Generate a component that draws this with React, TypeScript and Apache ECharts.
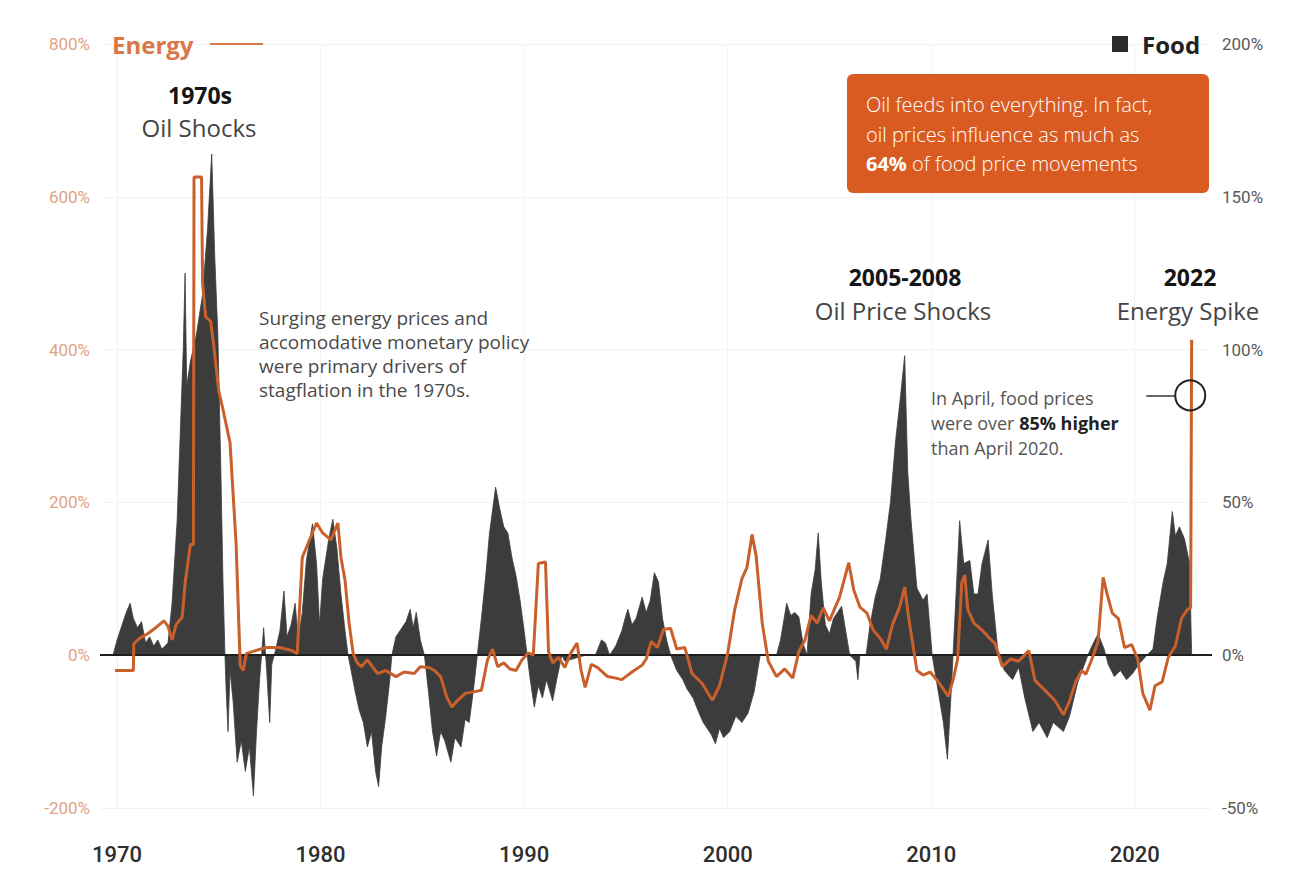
import React, { useEffect, useRef } from "react";
import * as echarts from "echarts";

// Year-over-year change, food price index (%), right axis
const foodSeries: [number, number][] = [
  [1969.8, 0], [1970.0, 5], [1970.2, 9], [1970.45, 14], [1970.64, 17], [1970.8, 12],
  [1971.0, 9], [1971.2, 11], [1971.4, 4], [1971.6, 6], [1971.8, 3], [1972.0, 5],
  [1972.2, 2], [1972.5, 4], [1972.7, 17], [1972.95, 44], [1973.1, 72], [1973.25, 100],
  [1973.34, 125], [1973.42, 88], [1973.6, 96], [1973.9, 105], [1974.2, 118], [1974.45, 140],
  [1974.65, 164], [1974.8, 130], [1974.95, 105], [1975.1, 60], [1975.2, 25], [1975.3, 0],
  [1975.35, -10], [1975.45, -25], [1975.55, -5], [1975.7, -15], [1975.9, -35], [1976.1, -28],
  [1976.3, -38], [1976.5, -30], [1976.7, -46], [1976.85, -25], [1977.0, -8], [1977.1, 0],
  [1977.2, 9], [1977.35, -5], [1977.5, -22], [1977.6, -3], [1977.8, 2], [1978.0, 8],
  [1978.2, 21], [1978.35, 6], [1978.55, 10], [1978.75, 17], [1978.9, 5], [1979.1, 14],
  [1979.3, 31], [1979.6, 43], [1979.8, 30], [1979.95, 10], [1980.1, 25], [1980.4, 38],
  [1980.6, 44.5], [1980.8, 35], [1981.0, 20], [1981.2, 8], [1981.35, 0], [1981.5, -5],
  [1981.7, -12], [1981.9, -18], [1982.1, -22], [1982.3, -30], [1982.5, -25], [1982.7, -38],
  [1982.85, -43], [1983.0, -30], [1983.2, -20], [1983.4, -8], [1983.5, 0], [1983.7, 6],
  [1984.0, 9], [1984.2, 11], [1984.4, 15], [1984.55, 9], [1984.7, 14], [1984.9, 5],
  [1985.1, 0], [1985.3, -12], [1985.5, -25], [1985.7, -33], [1985.9, -25], [1986.1, -28],
  [1986.4, -35], [1986.6, -27], [1986.9, -30], [1987.1, -21], [1987.3, -22], [1987.5, -12],
  [1987.7, 0], [1987.9, 12], [1988.1, 25], [1988.3, 40], [1988.6, 55], [1988.8, 48],
  [1989.0, 42], [1989.2, 40], [1989.4, 32], [1989.6, 26], [1989.8, 18], [1990.0, 8],
  [1990.15, 0], [1990.3, -8], [1990.5, -17], [1990.7, -10], [1990.9, -14], [1991.1, -8],
  [1991.4, -15], [1991.6, -8], [1991.85, 0], [1992.0, -2], [1992.5, -1], [1993.0, 0],
  [1993.5, 0], [1993.8, 5], [1994.0, 4], [1994.2, 0], [1994.5, 3], [1994.8, 8],
  [1995.0, 13], [1995.1, 15], [1995.3, 10], [1995.5, 12], [1995.8, 19], [1996.0, 14],
  [1996.2, 18], [1996.4, 27], [1996.6, 24], [1996.8, 12], [1997.0, 5], [1997.2, 0],
  [1997.5, -5], [1997.8, -8], [1998.0, -11], [1998.3, -14], [1998.6, -19], [1998.8, -22],
  [1999.0, -24], [1999.2, -26], [1999.4, -29], [1999.6, -24], [1999.8, -27], [2000.1, -25],
  [2000.4, -20], [2000.7, -22], [2001.0, -19], [2001.3, -12], [2001.6, 0], [2002.0, 0],
  [2002.4, 0], [2002.6, 5], [2002.9, 17], [2003.1, 13], [2003.3, 14], [2003.5, 12.5],
  [2003.7, 4], [2003.9, 0], [2004.1, 20], [2004.3, 28], [2004.45, 40], [2004.6, 24],
  [2004.8, 10], [2005.0, 7], [2005.2, 12], [2005.4, 14], [2005.6, 16], [2005.8, 8],
  [2006.0, 0], [2006.3, -2], [2006.4, -8], [2006.5, 0], [2006.8, 0], [2007.0, 10],
  [2007.25, 19], [2007.5, 25], [2007.75, 37], [2008.0, 50], [2008.25, 70], [2008.5, 85],
  [2008.7, 98], [2008.85, 60], [2009.0, 45], [2009.3, 22], [2009.6, 18], [2009.8, 20],
  [2010.05, 0], [2010.3, -10], [2010.6, -22], [2010.8, -34], [2011.0, -10], [2011.15, 10],
  [2011.4, 44], [2011.6, 30], [2011.9, 31], [2012.1, 20], [2012.3, 20], [2012.5, 30],
  [2012.8, 37.7], [2013.0, 20], [2013.3, 0], [2013.6, -5], [2014.0, -8], [2014.3, -4],
  [2014.6, -14], [2015.0, -25], [2015.3, -22], [2015.7, -27], [2016.0, -22], [2016.5, -25],
  [2016.8, -20], [2017.2, -9], [2017.7, 0], [2017.9, 3], [2018.2, 7], [2018.5, 2],
  [2018.7, -3], [2019.0, -7], [2019.3, -5], [2019.6, -8], [2019.9, -6], [2020.2, -3],
  [2020.6, 0], [2020.9, 2], [2021.1, 12], [2021.4, 24], [2021.6, 30], [2021.85, 47],
  [2022.0, 39], [2022.2, 42], [2022.45, 38], [2022.7, 30], [2022.8, 0],
];

// Year-over-year change, energy price index (%), left axis
const energySeries: [number, number][] = [
  [1969.9, -20], [1970.8, -20], [1970.82, 15], [1971.1, 22], [1971.5, 28], [1971.9, 36],
  [1972.3, 45], [1972.5, 38], [1972.7, 20], [1972.9, 40], [1973.2, 50], [1973.35, 96],
  [1973.6, 145], [1973.75, 145], [1973.78, 626], [1974.15, 626], [1974.2, 487], [1974.35, 443],
  [1974.6, 437], [1974.75, 405], [1975.0, 345], [1975.2, 322], [1975.55, 278], [1975.85, 145],
  [1976.05, -14], [1976.2, -20], [1976.35, 2], [1976.8, 6], [1977.3, 10], [1978.0, 10],
  [1978.6, 6], [1978.85, 2], [1979.1, 128], [1979.3, 141], [1979.8, 173], [1980.1, 160],
  [1980.5, 151], [1980.85, 173], [1981.0, 128], [1981.2, 98], [1981.4, 42], [1981.6, 2],
  [1981.8, -10], [1982.0, -15], [1982.3, -6], [1982.8, -24], [1983.2, -20], [1983.7, -28],
  [1984.1, -22], [1984.6, -24], [1984.9, -15], [1985.3, -16], [1985.6, -20], [1985.9, -28],
  [1986.2, -55], [1986.45, -68], [1986.7, -60], [1987.1, -50], [1987.5, -48], [1987.9, -46],
  [1988.2, -6], [1988.45, 8], [1988.7, -15], [1989.0, -10], [1989.3, -18], [1989.6, -20],
  [1989.9, -6], [1990.2, 3], [1990.45, 0], [1990.7, 120], [1991.05, 122], [1991.2, 5],
  [1991.4, -10], [1991.7, -3], [1992.0, -16], [1992.3, 3], [1992.6, 16], [1992.8, -20],
  [1993.0, -42], [1993.3, -12], [1993.6, -16], [1994.1, -28], [1994.5, -30], [1994.8, -32],
  [1995.3, -22], [1995.8, -13], [1996.0, -5], [1996.25, 18], [1996.55, 10], [1996.85, 34],
  [1997.2, 35], [1997.5, 8], [1997.9, 10], [1998.25, -24], [1998.75, -37], [1999.25, -59],
  [1999.6, -40], [2000.0, 2], [2000.35, 60], [2000.7, 100], [2000.95, 115], [2001.2, 158],
  [2001.4, 130], [2001.7, 42], [2002.0, -8], [2002.4, -28], [2002.8, -18], [2003.2, -30],
  [2003.5, 5], [2003.8, 20], [2004.1, 52], [2004.4, 42], [2004.7, 62], [2005.0, 45],
  [2005.5, 76], [2005.95, 121], [2006.2, 85], [2006.5, 63], [2006.85, 55], [2007.15, 33],
  [2007.5, 22], [2007.8, 8], [2008.1, 40], [2008.45, 63], [2008.7, 89], [2008.9, 48],
  [2009.3, -20], [2009.6, -26], [2009.95, -22], [2010.3, -33], [2010.85, -54], [2011.1, -30],
  [2011.3, -5], [2011.5, 94], [2011.65, 105], [2011.8, 60], [2012.1, 42], [2012.5, 33],
  [2012.8, 24], [2013.15, 15], [2013.5, -15], [2013.9, -5], [2014.3, -8], [2014.8, 6],
  [2015.1, -33], [2015.6, -46], [2016.1, -60], [2016.5, -78], [2016.8, -60], [2017.1, -35],
  [2017.4, -20], [2017.6, -25], [2017.9, -5], [2018.2, 18], [2018.45, 102], [2018.65, 80],
  [2018.9, 55], [2019.2, 48], [2019.5, 10], [2019.85, 14], [2020.15, -5], [2020.4, -50],
  [2020.75, -72], [2021.0, -40], [2021.35, -35], [2021.65, -3], [2022.0, 12], [2022.3, 48],
  [2022.6, 60], [2022.75, 62], [2022.8, 413],
];

const decadeTicks = [1970, 1980, 1990, 2000, 2010, 2020];
const energyAxisRange = [-200, 800];
const foodAxisRange = [-50, 200];
const april2022Food = 85; // % change vs April 2020
const april2022Year = 2022.73;

const ORANGE = "#c9602c";
const LEGEND_ORANGE = "#d9784a";
const FOOD_GRAY = "#3c3c3c";
const FONT = "Roboto, 'Noto Sans', sans-serif";
const NOTE_FONT = "'Open Sans', Roboto, sans-serif";

export default function App() {
  const ref = useRef<HTMLDivElement>(null);

  useEffect(() => {
    if (!ref.current) return;
    const chart = echarts.init(ref.current, undefined, { renderer: "svg" });

    const heading = (text: string, x: number, y: number) => ({
      type: "text",
      x,
      y,
      style: { text, font: `bold 23px ${NOTE_FONT}`, fill: "#151515", align: "center", verticalAlign: "middle" },
    });
    const subheading = (text: string, x: number, y: number) => ({
      type: "text",
      x,
      y,
      style: { text, font: `24px ${NOTE_FONT}`, fill: "#444", align: "center", verticalAlign: "middle" },
    });

    const overlays: any[] = [
      // legend
      {
        type: "text",
        x: 112,
        y: 44,
        style: { text: "Energy", font: `bold 24px ${NOTE_FONT}`, fill: LEGEND_ORANGE, verticalAlign: "middle" },
      },
      { type: "line", shape: { x1: 210, y1: 44, x2: 263, y2: 44 }, style: { stroke: LEGEND_ORANGE, lineWidth: 2 } },
      { type: "rect", shape: { x: 1112, y: 36, width: 16, height: 16 }, style: { fill: "#2a2a2a" } },
      {
        type: "text",
        x: 1142,
        y: 44,
        style: { text: "Food", font: `bold 24px ${NOTE_FONT}`, fill: "#222", verticalAlign: "middle" },
      },
      heading("1970s", 200, 95),
      subheading("Oil Shocks", 199, 127),
      // 1970s note
      ...["Surging energy prices and", "accomodative monetary policy", "were primary drivers of", "stagflation in the 1970s."].map(
        (t, i) => ({
          type: "text",
          x: 259,
          y: 318 + i * 24,
          style: { text: t, font: `19px ${NOTE_FONT}`, fill: "#4a4a4a", verticalAlign: "middle" },
        })
      ),
      heading("2005-2008", 905, 277),
      subheading("Oil Price Shocks", 903, 310),
      heading("2022", 1190, 277),
      subheading("Energy Spike", 1188, 310),
      // April note
      {
        type: "text",
        x: 931,
        y: 398,
        style: { text: "In April, food prices", font: `18px ${NOTE_FONT}`, fill: "#555", verticalAlign: "middle" },
      },
      {
        type: "text",
        x: 931,
        y: 423,
        style: {
          text: "were over {b|85% higher}",
          font: `18px ${NOTE_FONT}`,
          fill: "#555",
          verticalAlign: "middle",
          rich: { b: { fontWeight: "bold", fill: "#222", fontSize: 18, fontFamily: NOTE_FONT } },
        },
      },
      {
        type: "text",
        x: 931,
        y: 448,
        style: { text: "than April 2020.", font: `18px ${NOTE_FONT}`, fill: "#555", verticalAlign: "middle" },
      },
      // callout box
      {
        type: "rect",
        shape: { x: 847, y: 74, width: 362, height: 119, r: 6 },
        style: { fill: "#d95b22" },
      },
      {
        type: "text",
        x: 866,
        y: 104,
        style: { text: "Oil feeds into everything. In fact,", font: `300 20px ${NOTE_FONT}`, fill: "#fff", verticalAlign: "middle" },
      },
      {
        type: "text",
        x: 866,
        y: 134,
        style: { text: "oil prices influence as much as", font: `300 20px ${NOTE_FONT}`, fill: "#fff", verticalAlign: "middle" },
      },
      {
        type: "text",
        x: 866,
        y: 163,
        style: {
          text: "{b|64%} of food price movements",
          font: `300 20px ${NOTE_FONT}`,
          fill: "#fff",
          verticalAlign: "middle",
          rich: { b: { fontWeight: "bold", fill: "#fff", fontSize: 20, fontFamily: NOTE_FONT } },
        },
      },
    ];

    const option: echarts.EChartsOption = {
      animation: false,
      backgroundColor: "#ffffff",
      grid: { left: 100, right: 82, top: 44, bottom: 79 },
      xAxis: {
        type: "value",
        min: 1969.16,
        max: 2023.8,
        axisLine: { show: false },
        axisTick: { show: false, customValues: decadeTicks },
        splitLine: { show: true, lineStyle: { color: "#f3f3f3", width: 1 } },
        axisLabel: {
          customValues: decadeTicks,
          margin: 35,
          color: "#2e2e2e",
          fontSize: 22,
          fontFamily: FONT,
          fontWeight: 500,
          formatter: (v: number) => String(Math.round(v)),
        },
      },
      yAxis: [
        {
          type: "value",
          min: energyAxisRange[0],
          max: energyAxisRange[1],
          interval: 200,
          position: "left",
          axisLine: { show: false },
          axisTick: { show: false },
          splitLine: { show: true, lineStyle: { color: "#f3f3f3", width: 1 } },
          axisLabel: {
            formatter: "{value}%",
            color: "#e0a382",
            fontSize: 17,
            fontFamily: FONT,
            margin: 10,
          },
        },
        {
          type: "value",
          min: foodAxisRange[0],
          max: foodAxisRange[1],
          interval: 50,
          position: "right",
          axisLine: { show: false },
          axisTick: { show: false },
          splitLine: { show: false },
          axisLabel: {
            formatter: "{value}%",
            color: "#5a5a5a",
            fontSize: 17,
            fontFamily: FONT,
            margin: 10,
          },
        },
      ],
      series: [
        {
          name: "Food",
          type: "line",
          yAxisIndex: 1,
          data: foodSeries,
          symbol: "none",
          lineStyle: { color: FOOD_GRAY, width: 0.8 },
          areaStyle: { color: FOOD_GRAY, opacity: 1 },
          z: 2,
          markPoint: {
            symbol: "circle",
            symbolSize: 30,
            silent: true,
            label: { show: false },
            itemStyle: { color: "rgba(0,0,0,0)", borderColor: "#222", borderWidth: 2 },
            data: [{ coord: [april2022Year, april2022Food] }],
            z: 6,
          },
          markLine: {
            symbol: "none",
            silent: true,
            label: { show: false },
            lineStyle: { color: "#333", width: 1.5, type: "solid" },
            data: [
              [
                { coord: [2020.57, april2022Food] },
                { coord: [2021.99, april2022Food] },
              ],
            ],
          },
        },
        {
          name: "Energy",
          type: "line",
          yAxisIndex: 0,
          data: energySeries,
          symbol: "none",
          lineStyle: { color: ORANGE, width: 3 },
          z: 4,
          markLine: {
            symbol: "none",
            silent: true,
            label: { show: false },
            lineStyle: { color: "#1e1e1e", width: 2, type: "solid" },
            data: [{ yAxis: 0 }],
            z: 3,
          },
        },
      ],
      graphic: overlays.map((el) => ({ ...el, z: 100 })),
    };

    chart.setOption(option);
    return () => chart.dispose();
  }, []);

  return (
    <div
      ref={ref}
      style={{ position: "fixed", left: 0, top: 0, width: 1294, height: 887, background: "#fff" }}
    />
  );
}
